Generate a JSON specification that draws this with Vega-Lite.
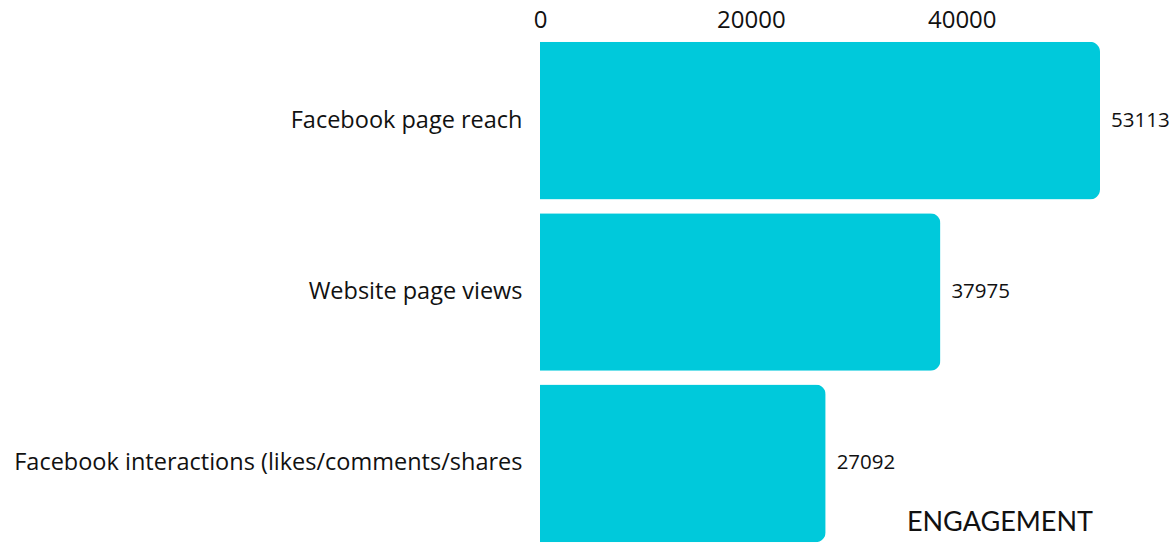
{
  "$schema": "https://vega.github.io/schema/vega-lite/v6.json",
  "autosize": "none",
  "width": 560,
  "height": 514,
  "padding": {"left": 540, "top": 35, "right": 70, "bottom": 0},
  "background": "white",
  "config": {"view": {"stroke": null}, "font": "Open Sans"},
  "title": {"text": "ENGAGEMENT", "orient": "bottom", "anchor": "end", "frame": "group", "offset": -39, "dx": -7, "fontSize": 27, "fontWeight": "normal", "color": "#111111", "font": "Lato"},
  "data": {"values": [
    {"metric": "Facebook page reach", "value": 53113},
    {"metric": "Website page views", "value": 37975},
    {"metric": "Facebook interactions (likes/comments/shares", "value": 27092}
  ]},
  "encoding": {
    "y": {"field": "metric", "type": "nominal", "sort": null,
      "scale": {"paddingInner": 0.08, "paddingOuter": 0.04},
      "axis": {"title": null, "domain": false, "ticks": false, "labelFontSize": 23.5, "labelPadding": 18, "labelColor": "#111111", "labelLimit": 600}},
    "x": {"field": "value", "type": "quantitative",
      "scale": {"domain": [0, 53113], "nice": false},
      "axis": {"orient": "top", "title": null, "grid": false, "domain": false, "ticks": false, "values": [0, 20000, 40000], "labelFontSize": 24, "labelPadding": 3, "labelColor": "#111111", "labelFlush": false, "format": "d"}}
  },
  "layer": [
    {"mark": {"type": "bar", "color": "#00C9DB", "cornerRadiusEnd": 10}},
    {"mark": {"type": "text", "align": "left", "baseline": "middle", "dx": 11, "fontSize": 20.5, "color": "#111111"},
     "encoding": {"text": {"field": "value", "type": "quantitative", "format": "d"}}}
  ]
}
